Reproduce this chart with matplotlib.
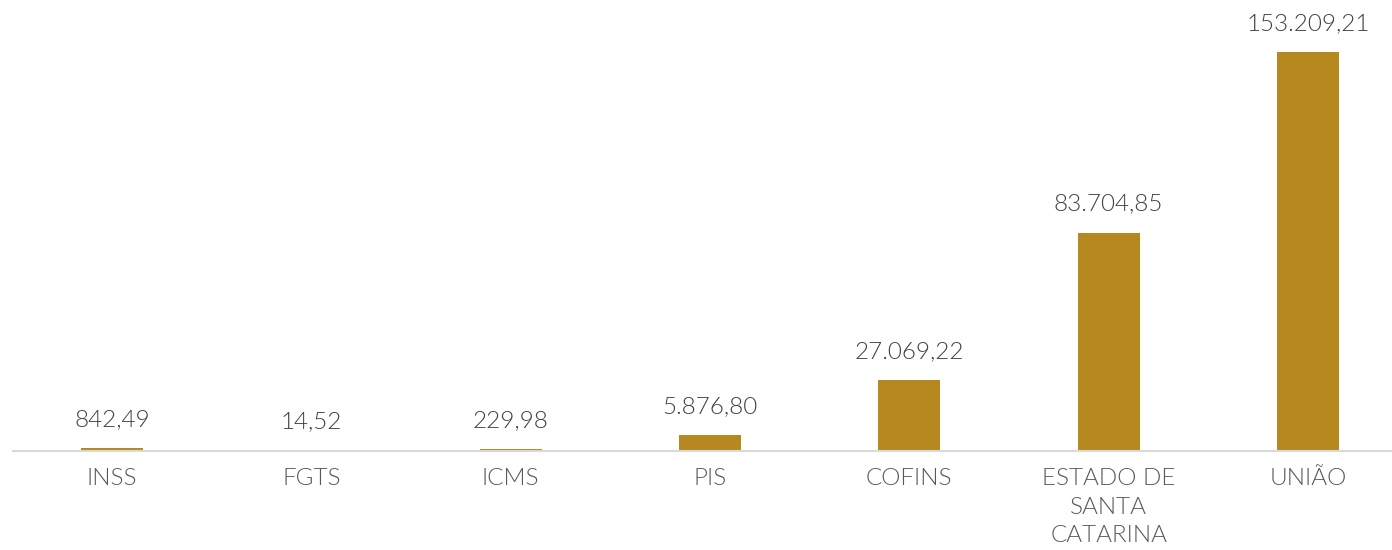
import matplotlib
matplotlib.use("Agg")
import matplotlib.pyplot as plt

# dados
categorias = ["INSS", "FGTS", "ICMS", "PIS", "COFINS", "ESTADO DE\nSANTA\nCATARINA", "UNIÃO"]
valores = [842.49, 14.52, 229.98, 5876.80, 27069.22, 83704.85, 153209.21]


def fmt_br(v):
    s = f"{v:,.2f}"
    return s.replace(",", "X").replace(".", ",").replace("X", ".")


plt.rcParams["font.family"] = ["Lato", "DejaVu Sans"]

fig = plt.figure(figsize=(13.92, 5.5), dpi=100)
ax = fig.add_axes([12.5 / 1392, 1 - 450 / 550, 7 * 199.3 / 1392, 450 / 550])

# eixo: só a linha de base, um pouco abaixo das barras
for s in ["top", "left", "right"]:
    ax.spines[s].set_visible(False)
ax.spines["bottom"].set_position(("outward", 1))
ax.spines["bottom"].set_color("#D9D9D9")
ax.spines["bottom"].set_linewidth(1.5)
ax.spines["bottom"].set_zorder(3)

x = range(len(categorias))
bars = ax.bar(x, valores, width=0.31, color="#B5891F", zorder=2)

for b, v in zip(bars, valores):
    ax.annotate(fmt_br(v), (b.get_x() + b.get_width() / 2, b.get_height()),
                xytext=(0, 13), textcoords="offset points", ha="center", va="bottom",
                fontsize=17.5, color="#404040", fontweight=300)

ax.set_xlim(-0.5, len(categorias) - 0.5)
ax.set_ylim(0, 153209.21 * 450 / 398)
ax.set_xticks(list(x))
ax.set_xticklabels(categorias, fontsize=17.5, color="#595959", fontweight=300, linespacing=1.45)
ax.tick_params(axis="x", length=0, pad=12)
ax.set_yticks([])

fig.savefig("out.png", dpi=100)
